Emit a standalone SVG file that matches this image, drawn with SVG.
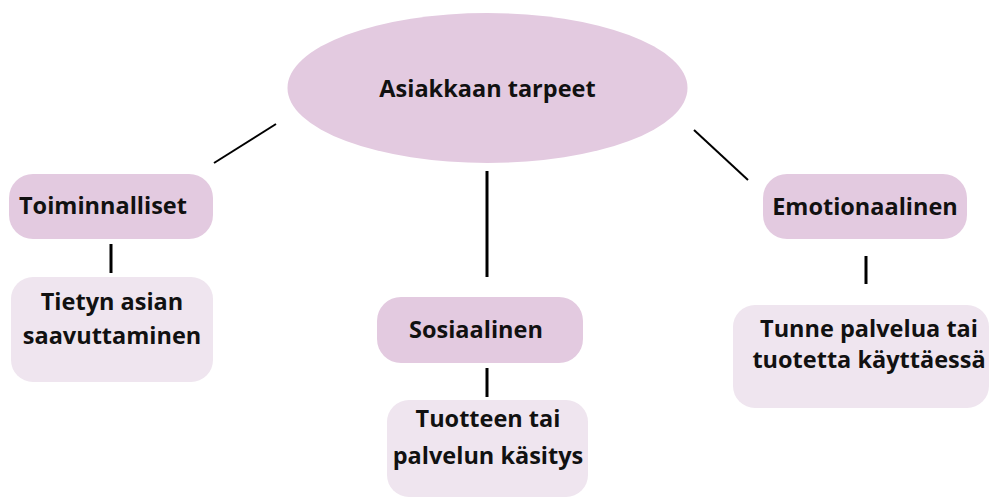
<svg xmlns="http://www.w3.org/2000/svg" width="989" height="499" viewBox="0 0 989 499">
<style>
.t{font-family:"Open Sans","Noto Sans","Liberation Sans",sans-serif;font-weight:bold;font-size:23.5px;fill:#111}
.m{text-anchor:middle}
.d{fill:#e3cae0}
.l{fill:#efe5ef}
.c line{stroke:#000;stroke-width:2}
.c .v{stroke-width:3}
</style>
<rect width="989" height="499" fill="#fff"/>
<g class="c" id="connectors">
<line x1="276" y1="124" x2="214" y2="163"/>
<line x1="694" y1="130" x2="748" y2="180"/>
<line class="v" x1="487" y1="171" x2="487" y2="277"/>
<line class="v" x1="111" y1="244" x2="111" y2="273"/>
<line class="v" x1="487" y1="368" x2="487" y2="397"/>
<line class="v" x1="866" y1="256" x2="866" y2="284"/>
</g>
<g id="root">
<ellipse class="d" cx="487.5" cy="88" rx="200" ry="75"/>
<text class="t m" x="487.5" y="97">Asiakkaan tarpeet</text>
</g>
<g id="toiminnalliset">
<rect class="d" x="9" y="174" width="204" height="65" rx="24"/>
<text class="t" x="19" y="214">Toiminnalliset</text>
</g>
<g id="tietyn">
<rect class="l" x="11" y="277" width="202" height="105" rx="22"/>
<text class="t m" x="112" y="310">Tietyn asian</text>
<text class="t m" x="112" y="344">saavuttaminen</text>
</g>
<g id="sosiaalinen">
<rect class="d" x="377" y="297" width="206" height="66" rx="24"/>
<text class="t" x="409" y="338">Sosiaalinen</text>
</g>
<g id="tuotteen">
<rect class="l" x="387" y="400" width="201" height="97" rx="22"/>
<text class="t m" x="488" y="427">Tuotteen tai</text>
<text class="t m" x="488" y="464">palvelun käsitys</text>
</g>
<g id="emotionaalinen">
<rect class="d" x="763" y="174" width="204" height="65" rx="24"/>
<text class="t m" x="865" y="215">Emotionaalinen</text>
</g>
<g id="tunne">
<rect class="l" x="733" y="305" width="256" height="103" rx="22"/>
<text class="t m" x="869" y="337">Tunne palvelua tai</text>
<text class="t m" x="869" y="368">tuotetta käyttäessä</text>
</g>
</svg>
